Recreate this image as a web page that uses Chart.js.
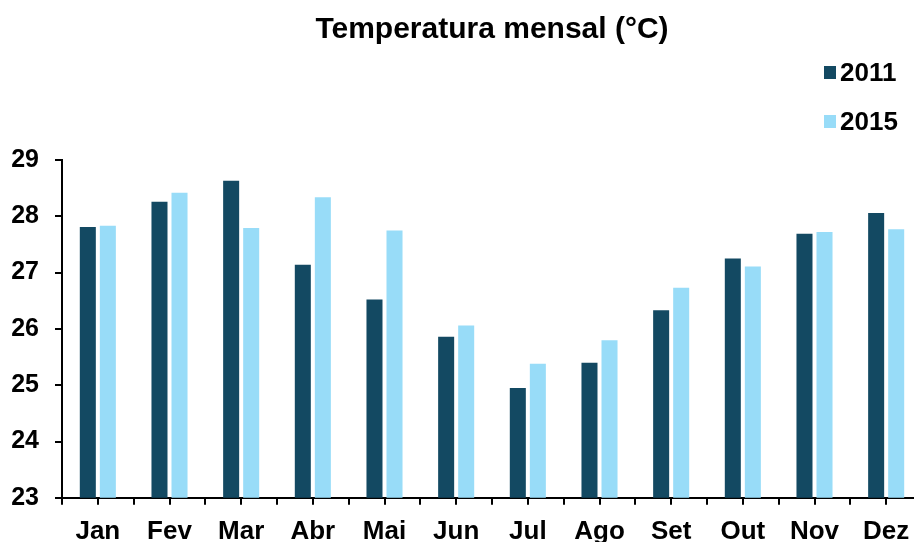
<!DOCTYPE html>
<html>
<head>
<meta charset="utf-8">
<script src="https://cdn.jsdelivr.net/npm/chart.js@4"></script>
<style>
  html, body { margin: 0; padding: 0; background: #ffffff; overflow: hidden; }
  #chart { display: block; }
</style>
</head>
<body>
<canvas id="chart" width="922" height="558"></canvas>
<script>
// Monthly mean temperature (°C)
const months = ['Jan', 'Fev', 'Mar', 'Abr', 'Mai', 'Jun', 'Jul', 'Ago', 'Set', 'Out', 'Nov', 'Dez'];
const temp2011 = [27.81, 28.26, 28.63, 27.14, 26.52, 25.86, 24.95, 25.40, 26.33, 27.25, 27.69, 28.06];
const temp2015 = [27.83, 28.42, 27.79, 28.34, 27.75, 26.06, 25.38, 25.80, 26.73, 27.11, 27.72, 27.77];
const seriesNames = ['2011', '2015'];
const yMin = 23;
const yMax = 29;
const yStep = 1;

const FONT = "'Liberation Sans', Arial, Helvetica, sans-serif";
const COLORS = ['#134962', '#98dcf8'];

// short marks under each category centre (the axis grid draws the ones between categories)
const centreTicks = {
  id: 'centreTicks',
  afterDatasetsDraw(chart) {
    const xs = chart.scales.x;
    const ctx = chart.ctx;
    const y0 = chart.chartArea.bottom;
    ctx.save();
    ctx.strokeStyle = '#000';
    ctx.lineWidth = 2;
    ctx.beginPath();
    for (let i = 0; i < months.length; i++) {
      const px = Math.round(xs.getPixelForValue(i));
      ctx.moveTo(px, y0);
      ctx.lineTo(px, y0 + 7);
    }
    ctx.stroke();
    ctx.restore();
  }
};

// stacked legend in the upper-right corner
const sideLegend = {
  id: 'sideLegend',
  afterDraw(chart) {
    const ctx = chart.ctx;
    ctx.save();
    ctx.font = `bold 26px ${FONT}`;
    ctx.textAlign = 'left';
    ctx.textBaseline = 'alphabetic';
    chart.data.datasets.forEach((ds, i) => {
      const top = 66 + i * 49;
      ctx.fillStyle = ds.backgroundColor;
      ctx.fillRect(824, top, 12, 13);
      ctx.fillStyle = '#000';
      ctx.fillText(ds.label, 840, top + 15);
    });
    ctx.restore();
  }
};

new Chart(document.getElementById('chart'), {
  type: 'bar',
  data: {
    labels: months,
    datasets: [
      { label: seriesNames[0], data: temp2011, backgroundColor: COLORS[0] },
      { label: seriesNames[1], data: temp2015, backgroundColor: COLORS[1] }
    ]
  },
  options: {
    responsive: false,
    animation: false,
    datasets: {
      bar: { categoryPercentage: 0.559, barPercentage: 0.8 }
    },
    layout: { padding: { left: 11, right: 0, top: 0, bottom: 0 } },
    plugins: {
      legend: { display: false },
      tooltip: { enabled: false },
      title: {
        display: true,
        fullSize: false,
        text: 'Temperatura mensal (°C)',
        color: '#000',
        font: { family: FONT, size: 30, weight: 'bold' },
        padding: { top: 12, bottom: 112 }
      }
    },
    scales: {
      x: {
        offset: true,
        grid: { offset: true, drawOnChartArea: false, tickLength: 7, color: '#000', lineWidth: 2 },
        border: { display: true, color: '#000', width: 2 },
        ticks: {
          color: '#000',
          padding: 11,
          autoSkip: false,
          maxRotation: 0,
          font: { family: FONT, size: 26, weight: 'bold' }
        }
      },
      y: {
        min: yMin,
        max: yMax,
        afterFit(scale) { scale.width = 51; },
        grid: { drawOnChartArea: false, tickLength: 7, color: '#000', lineWidth: 2 },
        border: { display: true, color: '#000', width: 2 },
        ticks: {
          stepSize: yStep,
          color: '#000',
          padding: 16,
          font: { family: FONT, size: 25, weight: 'bold' }
        }
      }
    }
  },
  plugins: [centreTicks, sideLegend]
});
</script>
</body>
</html>
